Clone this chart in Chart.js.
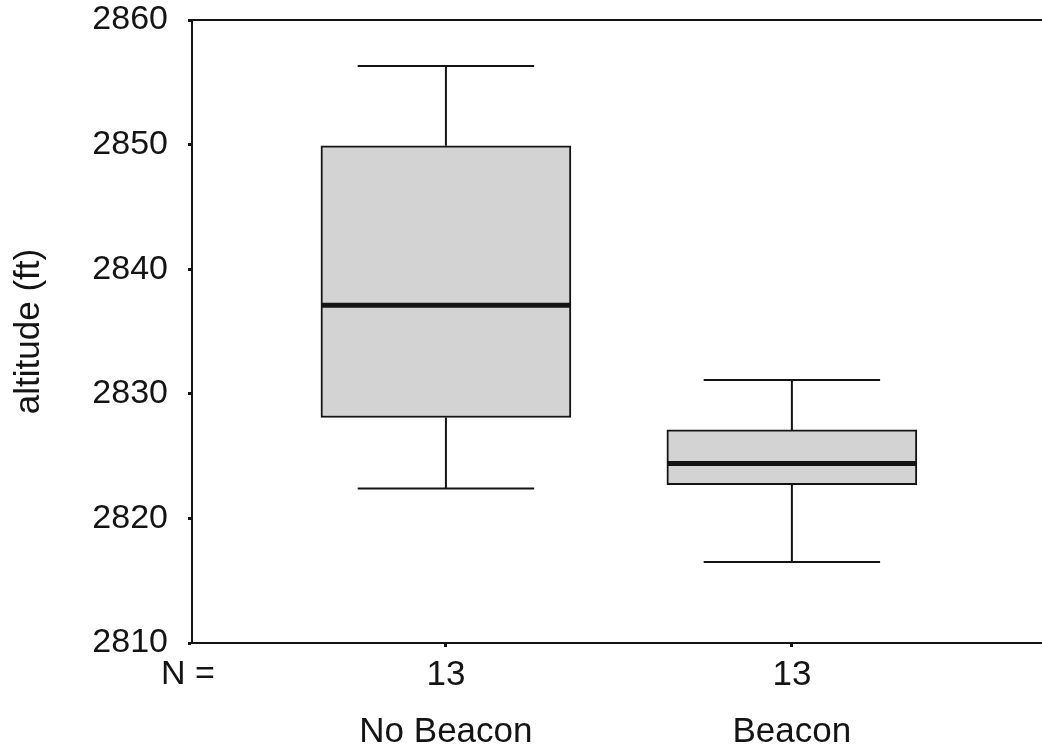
<!DOCTYPE html>
<html>
<head>
<meta charset="utf-8">
<title>altitude box plot</title>
<script src="https://cdn.jsdelivr.net/npm/chart.js@4"></script>
<style>
  html, body { margin: 0; padding: 0; background: #fff; }
  #wrap { width: 1042px; height: 746px; }
</style>
</head>
<body>
<div id="wrap"><canvas id="boxChart" width="1042" height="746"></canvas></div>
<script>
// ---------------- data ----------------
const categories  = ['No Beacon', 'Beacon'];
const counts      = [13, 13];
const whiskerLow  = [2822.4, 2816.5];
const q1          = [2828.1, 2822.7];
const medians     = [2837.1, 2824.4];
const q3          = [2849.9, 2827.1];
const whiskerHigh = [2856.3, 2831.1];
const yMin = 2810, yMax = 2860, yStep = 10;

const INK = '#141414';
const FONT = 'Liberation Sans, Arial, sans-serif';

// whiskers, caps and median lines drawn on top of the floating bars
const boxExtras = {
    id: 'boxExtras',
    afterDatasetsDraw(chart) {
        const { ctx, scales: { x, y }, chartArea } = chart;
        ctx.save();
        ctx.strokeStyle = INK;
        categories.forEach((c, i) => {
            const cx = x.getPixelForValue(i);
            const capL = x.getPixelForValue(i - 0.255);
            const capR = x.getPixelForValue(i + 0.255);
            const boxL = x.getPixelForValue(i - 0.361);
            const boxR = x.getPixelForValue(i + 0.361);

            ctx.lineWidth = 2;
            ctx.beginPath();
            // upper whisker
            ctx.moveTo(cx, y.getPixelForValue(q3[i]));
            ctx.lineTo(cx, y.getPixelForValue(whiskerHigh[i]));
            ctx.moveTo(capL, y.getPixelForValue(whiskerHigh[i]));
            ctx.lineTo(capR, y.getPixelForValue(whiskerHigh[i]));
            // lower whisker
            ctx.moveTo(cx, y.getPixelForValue(q1[i]));
            ctx.lineTo(cx, y.getPixelForValue(whiskerLow[i]));
            ctx.moveTo(capL, y.getPixelForValue(whiskerLow[i]));
            ctx.lineTo(capR, y.getPixelForValue(whiskerLow[i]));
            ctx.stroke();

            // median
            ctx.lineWidth = 5;
            ctx.beginPath();
            ctx.moveTo(boxL, y.getPixelForValue(medians[i]));
            ctx.lineTo(boxR, y.getPixelForValue(medians[i]));
            ctx.stroke();
        });

        // top frame line
        ctx.lineWidth = 2;
        ctx.beginPath();
        ctx.moveTo(chartArea.left, chartArea.top);
        ctx.lineTo(chartArea.right, chartArea.top);
        ctx.stroke();

        // "N =" label next to the counts
        ctx.fillStyle = INK;
        ctx.font = '34px ' + FONT;
        ctx.textAlign = 'center';
        ctx.textBaseline = 'middle';
        ctx.fillText('N =', 188, 675);
        ctx.restore();
    }
};

const boxData = categories.map((c, i) => ({ x: i, y: [q1[i], q3[i]] }));

new Chart(document.getElementById('boxChart'), {
    type: 'bar',
    data: {
        datasets: [{
            label: 'altitude',
            data: boxData,
            backgroundColor: '#d3d3d3',
            borderColor: INK,
            borderWidth: 2,
            borderSkipped: false,
            barThickness: 250
        }]
    },
    options: {
        responsive: false,
        animation: false,
        events: [],
        layout: { padding: { top: 20, right: 0, left: 0, bottom: 0 }, autoPadding: false },
        plugins: {
            legend: { display: false },
            tooltip: { enabled: false }
        },
        scales: {
            x: {
                type: 'linear',
                offset: false,
                min: -0.734,
                max: 1.723,
                afterBuildTicks: (scale) => { scale.ticks = categories.map((c, i) => ({ value: i })); },
                afterFit: (scale) => { scale.height = 103; scale.paddingLeft = 0; scale.paddingRight = 0; },
                grid: { offset: false, drawOnChartArea: false, drawTicks: true, tickLength: 4, tickWidth: 3, tickColor: INK },
                border: { display: true, color: INK, width: 2 },
                ticks: {
                    color: INK,
                    padding: 0,
                    maxRotation: 0,
                    autoSkip: false,
                    font: { family: FONT, size: 35, lineHeight: 1.62 },
                    callback: (v) => [String(counts[v]), categories[v]]
                }
            },
            y: {
                min: yMin,
                max: yMax,
                afterFit: (scale) => { scale.width = 192; scale.paddingTop = 0; scale.paddingBottom = 0; },
                grid: { drawOnChartArea: false, drawTicks: true, tickLength: 4, tickWidth: 3, tickColor: INK },
                border: { display: true, color: INK, width: 2 },
                ticks: {
                    stepSize: yStep,
                    color: INK,
                    padding: 20,
                    font: { family: FONT, size: 34 },
                    callback: (v) => String(v)
                },
                title: {
                    display: true,
                    text: 'altitude (ft)',
                    color: INK,
                    padding: { top: 8, bottom: 0 },
                    font: { family: FONT, size: 35, lineHeight: 1.2 }
                }
            }
        }
    },
    plugins: [boxExtras]
});
</script>
</body>
</html>
